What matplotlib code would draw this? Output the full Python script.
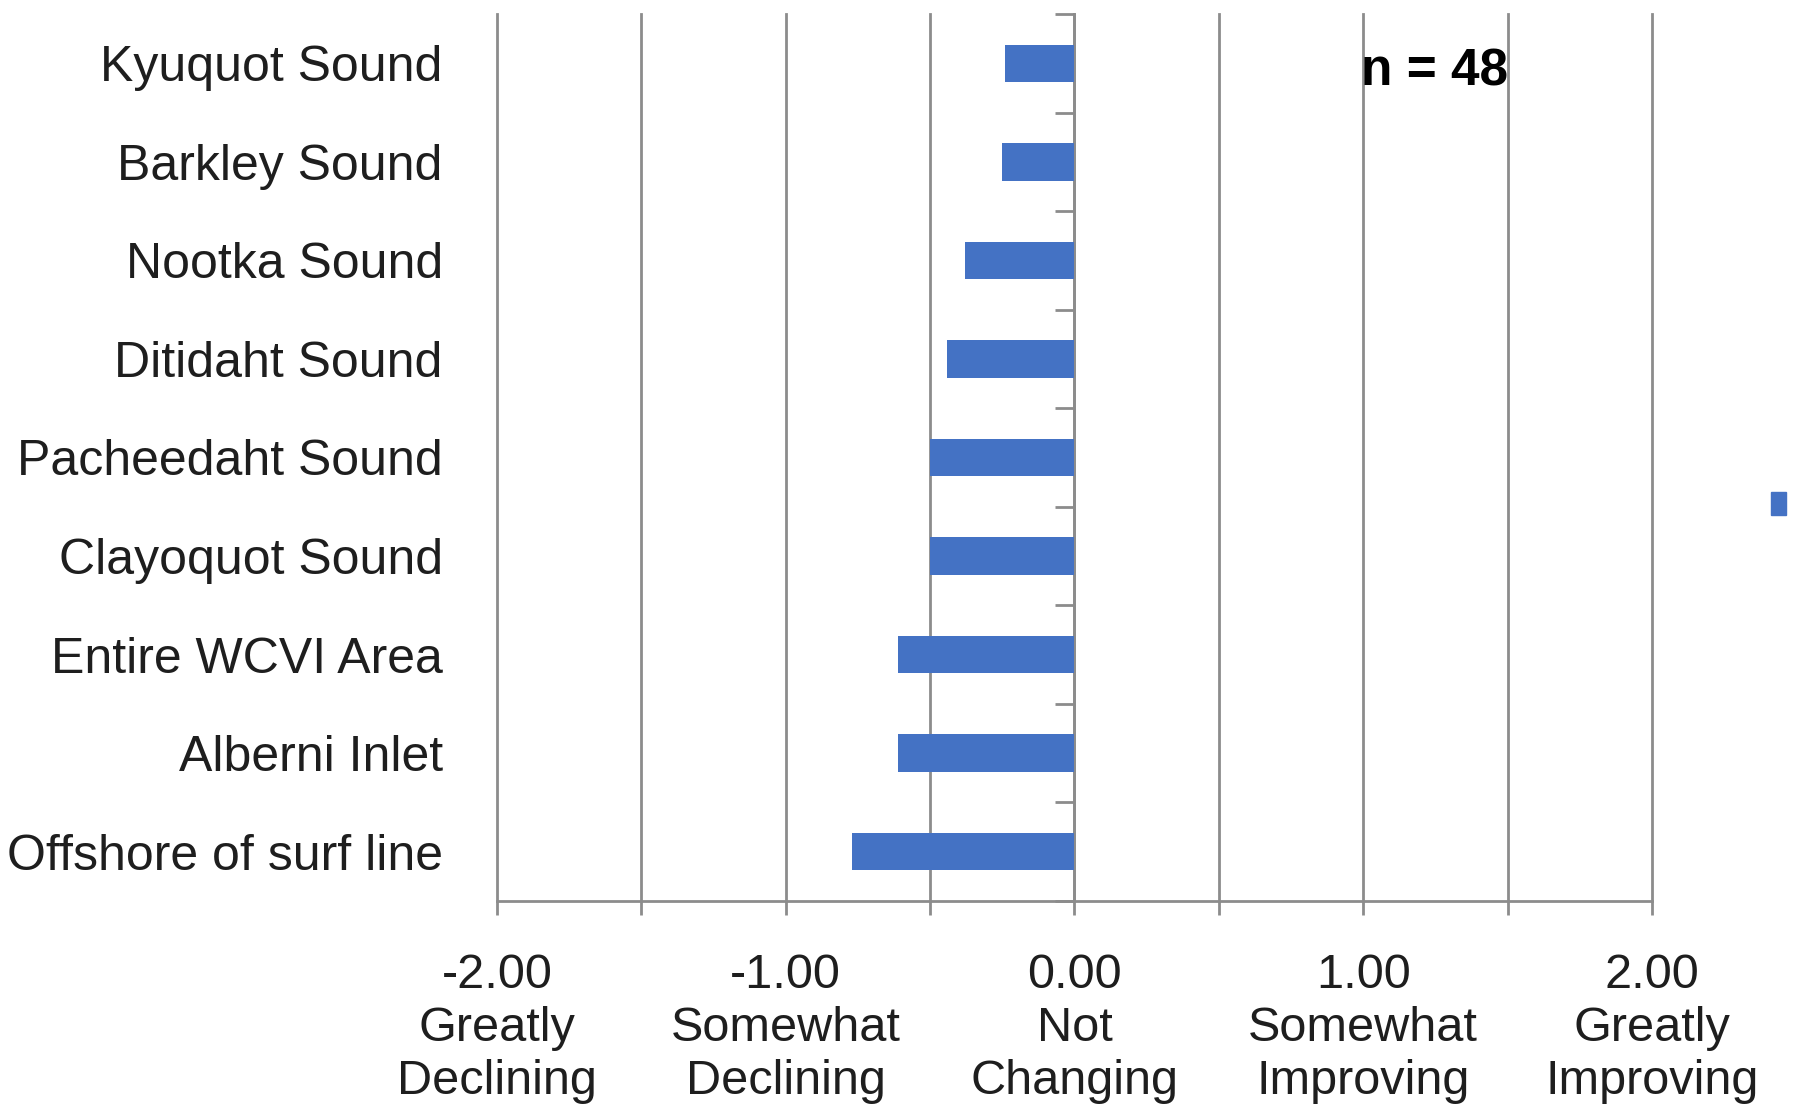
import matplotlib.pyplot as plt
from matplotlib.patches import Patch

plt.rcParams['font.family'] = ['Liberation Sans', 'DejaVu Sans']

# ---------- data ----------
areas = ['Kyuquot Sound', 'Barkley Sound', 'Nootka Sound', 'Ditidaht Sound',
         'Pacheedaht Sound', 'Clayoquot Sound', 'Entire WCVI Area',
         'Alberni Inlet', 'Offshore of surf line']
scores = [-0.24, -0.25, -0.38, -0.44, -0.50, -0.50, -0.61, -0.61, -0.77]

scale_ticks = [-2.0, -1.5, -1.0, -0.5, 0.0, 0.5, 1.0, 1.5, 2.0]
scale_names = {-2.0: 'Greatly\nDeclining', -1.0: 'Somewhat\nDeclining',
               0.0: 'Not\nChanging', 1.0: 'Somewhat\nImproving',
               2.0: 'Greatly\nImproving'}
n_resp = 48

bar_color = '#4472C4'
line_color = '#8c8c8c'
text_color = '#1e1e1e'

fig = plt.figure(figsize=(17.95, 11.04), dpi=100)
ax = fig.add_axes([0.2769, 0.1839, 0.6434, 0.8034])

pos = list(range(len(areas)))
ax.barh(pos, scores, height=0.38, color=bar_color, zorder=3)

ax.set_xlim(-2, 2)
ax.set_ylim(len(areas) - 0.5, -0.5)

# x axis: ticks every 0.5, labels only on whole numbers
labels = []
for t in scale_ticks:
    if t in scale_names:
        labels.append(f'{t:.2f}\n{scale_names[t]}')
    else:
        labels.append('')
ax.set_xticks(scale_ticks)
ax.set_xticklabels(labels, fontsize=35, color=text_color, linespacing=1.23,
                   va='top')
ax.tick_params(axis='x', length=10, width=2, color=line_color, pad=27.5)
ax.grid(axis='x', color=line_color, linewidth=2, zorder=0)
for gl in ax.get_xgridlines():
    gl.set_clip_on(False)

# category labels on the left, no ticks there
ax.set_yticks(pos)
ax.set_yticklabels(areas, fontsize=36, color=text_color)
ax.tick_params(axis='y', length=0, pad=39)

for side in ['top', 'right', 'left']:
    ax.spines[side].set_visible(False)
ax.spines['bottom'].set_color(line_color)
ax.spines['bottom'].set_linewidth(2)

# vertical axis drawn through zero with boundary ticks pointing left
vax = ax.secondary_yaxis(0.5)
vax.set_alignment('left')
vax.set_yticks([p - 0.5 for p in pos] + [len(areas) - 0.5])
vax.set_yticklabels([])
vax.tick_params(axis='y', length=14, width=2, color=line_color)
vax.spines['left'].set_color(line_color)
vax.spines['left'].set_linewidth(2)

ax.text(0.748, 0.935, f'n = {n_resp}', transform=ax.transAxes,
        fontsize=37, fontweight='bold', color='black', va='center')

# series key marker at the right edge
fig.legend(handles=[Patch(color=bar_color)], labels=[''],
           loc='center left', bbox_to_anchor=(0.9866, 0.5403), frameon=False,
           fontsize=30, handlelength=0.36, handleheight=0.45,
           borderaxespad=0, borderpad=0)

fig.savefig('out.png', dpi=100)
